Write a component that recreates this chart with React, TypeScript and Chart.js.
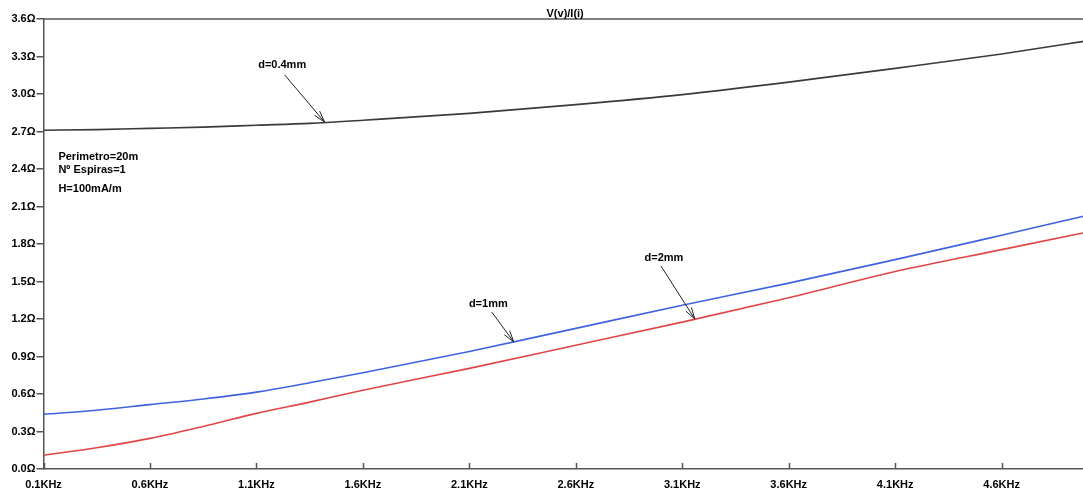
import { useEffect, useRef } from "react";
import { Chart, registerables } from "chart.js";

Chart.register(...registerables);

// ---- data ----
const freqKHz = [0.1, 0.35, 0.6, 0.85, 1.1, 1.35, 1.6, 2.1, 2.6, 3.1, 3.6, 4.1, 4.6, 5.0];
const d04mm = [2.71, 2.715, 2.725, 2.735, 2.75, 2.765, 2.79, 2.845, 2.915, 2.995, 3.095, 3.205, 3.32, 3.425];
const d1mm = [0.437, 0.47, 0.515, 0.56, 0.615, 0.69, 0.77, 0.94, 1.125, 1.31, 1.487, 1.675, 1.87, 2.028];
const d2mm = [0.11, 0.17, 0.245, 0.34, 0.445, 0.535, 0.63, 0.805, 0.99, 1.175, 1.37, 1.58, 1.755, 1.895];

const xTickValues = [0.1, 0.6, 1.1, 1.6, 2.1, 2.6, 3.1, 3.6, 4.1, 4.6];
const xMin = 0.1;
const xMax = 5.0;
const yMin = 0;
const yMax = 3.6;
const yStep = 0.3;

const titleText = "V(v)/I(i)";
const infoLines = ["Perimetro=20m", "Nº Espiras=1", "H=100mA/m"];
const infoY = [2.476, 2.37, 2.22];
const infoX = 0.17;

// annotation labels with arrows, in data coordinates
const arrowNotes = [
  { text: "d=0.4mm", tx: 1.221, ty: 3.232, x0: 1.233, y0: 3.152, x1: 1.42, y1: 2.776 },
  { text: "d=1mm", tx: 2.189, ty: 1.324, x0: 2.205, y0: 1.256, x1: 2.309, y1: 1.016 },
  { text: "d=2mm", tx: 3.014, ty: 1.69, x0: 3.0, y0: 1.624, x1: 3.159, y1: 1.2 },
];

const FONT = "'Liberation Sans', Arial, sans-serif";
const AXIS = "#555555";

const overlayPlugin = {
  id: "overlay",
  afterDraw(chart: any) {
    const { ctx, chartArea, scales } = chart;
    const { left, right, top, bottom } = chartArea;
    const xs = scales.x;
    const ys = scales.y;
    ctx.save();
    // top border
    ctx.strokeStyle = AXIS;
    ctx.lineWidth = 1.5;
    ctx.beginPath();
    ctx.moveTo(left, top);
    ctx.lineTo(right + 10, top);
    ctx.stroke();
    // x ticks pointing inward
    ctx.beginPath();
    for (const v of xTickValues) {
      const px = Math.round(xs.getPixelForValue(v)) + 0.5;
      ctx.moveTo(px, bottom);
      ctx.lineTo(px, bottom - 6);
    }
    ctx.stroke();
    // title
    ctx.fillStyle = "#000";
    ctx.font = `bold 11px ${FONT}`;
    ctx.textAlign = "center";
    ctx.textBaseline = "alphabetic";
    ctx.fillText(titleText, (left + right) / 2, top - 2);
    // info text
    ctx.textAlign = "left";
    infoLines.forEach((t, i) => {
      ctx.fillText(t, xs.getPixelForValue(infoX), ys.getPixelForValue(infoY[i]));
    });
    // arrow notes
    ctx.strokeStyle = "#222";
    ctx.lineWidth = 1;
    for (const n of arrowNotes) {
      ctx.textAlign = "center";
      ctx.textBaseline = "middle";
      ctx.fillText(n.text, xs.getPixelForValue(n.tx), ys.getPixelForValue(n.ty));
      const ax0 = xs.getPixelForValue(n.x0);
      const ay0 = ys.getPixelForValue(n.y0);
      const ax1 = xs.getPixelForValue(n.x1);
      const ay1 = ys.getPixelForValue(n.y1);
      ctx.beginPath();
      ctx.moveTo(ax0, ay0);
      ctx.lineTo(ax1, ay1);
      const ang = Math.atan2(ay1 - ay0, ax1 - ax0);
      const len = 12;
      for (const d of [-0.28, 0.28]) {
        ctx.moveTo(ax1, ay1);
        ctx.lineTo(ax1 - len * Math.cos(ang + d), ay1 - len * Math.sin(ang + d));
      }
      ctx.stroke();
    }
    ctx.restore();
  },
};

export default function App() {
  const ref = useRef<HTMLCanvasElement | null>(null);
  useEffect(() => {
    if (!ref.current) return;
    const mk = (ys: number[]) => freqKHz.map((x, i) => ({ x, y: ys[i] }));
    const chart = new Chart(ref.current, {
      type: "line",
      data: {
        datasets: [
          { label: "d=0.4mm", data: mk(d04mm), borderColor: "#3a3a3a", borderWidth: 1.6 },
          { label: "d=1mm", data: mk(d1mm), borderColor: "#3f63e0", borderWidth: 1.6 },
          { label: "d=2mm", data: mk(d2mm), borderColor: "#e04646", borderWidth: 1.6 },
        ].map((d) => ({ ...d, pointRadius: 0, fill: false, cubicInterpolationMode: "monotone" as const })),
      },
      options: {
        animation: false,
        responsive: false,
        devicePixelRatio: 1,
        layout: { padding: { left: 0, right: 3.2, top: 19, bottom: 0 } },
        plugins: { legend: { display: false }, tooltip: { enabled: false }, title: { display: false } },
        scales: {
          x: {
            type: "linear",
            min: xMin,
            max: xMax,
            afterBuildTicks: (s: any) => {
              s.ticks = xTickValues.map((value) => ({ value }));
            },
            afterFit: (s: any) => {
              s.height = 23;
            },
            grid: { display: false, drawTicks: false },
            border: { display: true, color: AXIS, width: 1.5 },
            ticks: {
              autoSkip: false,
              maxRotation: 0,
              padding: 9,
              color: "#000",
              font: { family: FONT, size: 11, weight: "bold" },
              callback: (v: any) => Number(v).toFixed(1) + "KHz",
            },
          },
          y: {
            type: "linear",
            min: yMin,
            max: yMax,
            afterFit: (s: any) => {
              s.width = 43.5;
            },
            grid: { display: true, drawOnChartArea: false, drawTicks: true, tickLength: 7, color: AXIS, lineWidth: 1.5 },
            border: { display: true, color: AXIS, width: 1.5 },
            ticks: {
              stepSize: yStep,
              padding: 1,
              color: "#000",
              font: { family: FONT, size: 11, weight: "bold" },
              callback: (v: any) => Number(v).toFixed(1) + "Ω",
            },
          },
        },
      },
      plugins: [overlayPlugin],
    });
    return () => chart.destroy();
  }, []);
  return (
    <div
      style={{
        position: "fixed",
        left: 0,
        top: 0,
        width: 1083,
        height: 492,
        overflow: "hidden",
        background: "#fff",
      }}
    >
      <canvas ref={ref} width={1090} height={492} style={{ display: "block" }} />
    </div>
  );
}
